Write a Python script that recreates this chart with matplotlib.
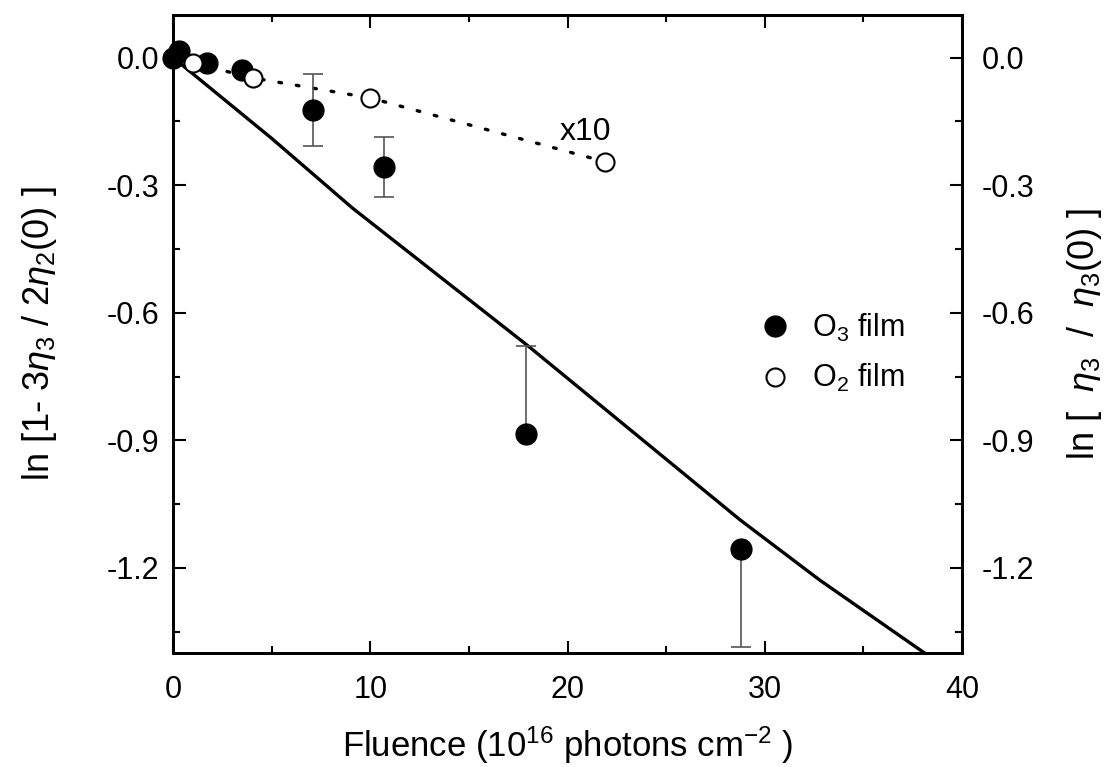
import matplotlib
matplotlib.use("Agg")
import matplotlib.pyplot as plt
from matplotlib.ticker import MultipleLocator

plt.rcParams['font.family'] = ['Liberation Sans', 'DejaVu Sans']
plt.rcParams['mathtext.fontset'] = 'custom'
plt.rcParams['mathtext.rm'] = 'Liberation Sans'
plt.rcParams['mathtext.it'] = 'Liberation Sans:italic'

# O3 film data
o3_x = [0.0, 0.3, 1.7, 3.5, 7.1, 10.7, 17.9, 28.8]
o3_y = [0.0, 0.015, -0.013, -0.029, -0.123, -0.258, -0.885, -1.156]
o3_err_lo = [0, 0, 0, 0, 0.085, 0.071, 0.0, 0.229]
o3_err_hi = [0, 0, 0, 0, 0.085, 0.071, 0.207, 0.0]

# O2 film data (x10)
o2_x = [1.0, 4.06, 10.0, 21.9]
o2_y = [-0.013, -0.048, -0.095, -0.245]

# model curve
fit_x = [0, 5, 9.1, 18, 28.75, 32.8, 38.1]
fit_y = [0, -0.19, -0.354, -0.678, -1.087, -1.229, -1.40]

fig = plt.figure(figsize=(11.04, 7.67), dpi=100)
ax = fig.add_axes([173/1104, 1-653/767, (962-173)/1104, (653-15)/767])

ax.plot(fit_x, fit_y, color='black', lw=2.4, zorder=2)
ax.plot(o2_x, o2_y, color='black', lw=2.4, linestyle=(0, (0.8, 4.5)), dash_capstyle='round', zorder=2)

ax.errorbar(o3_x, o3_y, yerr=[o3_err_lo, o3_err_hi], fmt='none', ecolor='#555555',
            elinewidth=1.2, capsize=7, capthick=1.2, zorder=3)
ax.plot(o3_x, o3_y, 'o', color='black', markersize=15, linestyle='none', zorder=4,
        label='O$_3$ film', clip_on=False)
ax.plot(o2_x, o2_y, 'o', markerfacecolor='white', markeredgecolor='black', markeredgewidth=1.5,
        markersize=13, linestyle='none', zorder=4, label='O$_2$ film', clip_on=False)

ax.text(20.9, -0.175, 'x10', fontsize=23, ha='center', va='center')

ax.set_xlim(0, 40)
ax.set_ylim(-1.4, 0.1)
ax.xaxis.set_major_locator(MultipleLocator(10))
ax.xaxis.set_minor_locator(MultipleLocator(5))
ax.yaxis.set_major_locator(MultipleLocator(0.3))
ax.yaxis.set_minor_locator(MultipleLocator(0.15))
ax.yaxis.set_major_formatter(plt.FuncFormatter(lambda v, p: f'{v:.1f}'.replace('-0.0', '0.0')))
ax.tick_params(which='both', direction='in', top=True, right=False, labelsize=22, width=1.5)
ax.tick_params(which='major', length=9, pad=10)
ax.tick_params(axis='x', which='major', pad=16)
ax.tick_params(which='minor', length=5)
for s in ax.spines.values():
    s.set_linewidth(2)

ax.set_xlabel('Fluence (10$^{16}$ photons cm$^{-2}$ )', fontsize=25, labelpad=14)
ax.set_ylabel(r'ln [1- 3$\it{\eta}_3$ / 2$\it{\eta}_2$(0) ]', fontsize=26, labelpad=34)

ax2 = ax.twinx()
ax2.set_ylim(-1.4, 0.1)
ax2.yaxis.set_major_locator(MultipleLocator(0.3))
ax2.yaxis.set_minor_locator(MultipleLocator(0.15))
ax2.yaxis.set_major_formatter(plt.FuncFormatter(lambda v, p: f'{v:.1f}'.replace('-0.0', '0.0')))
ax2.tick_params(which='both', direction='in', labelsize=22, width=1.5)
ax2.tick_params(which='major', length=9, pad=14)
ax2.tick_params(which='minor', length=5)
ax2.set_ylabel(r'ln [  $\it{\eta}_3$  /  $\it{\eta}_3$(0) ]', fontsize=26, labelpad=22)
for s in ax2.spines.values():
    s.set_linewidth(2)

leg = ax.legend(loc='center left', bbox_to_anchor=(0.705, 0.47), frameon=False, fontsize=22,
                handletextpad=0.6, labelspacing=0.6, markerscale=1.0, handlelength=1.2)

fig.savefig('out.png', dpi=100)
